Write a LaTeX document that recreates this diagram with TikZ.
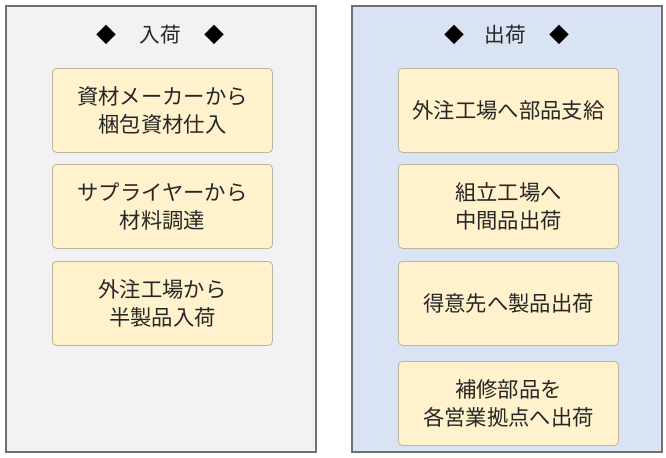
\documentclass[tikz,border=0pt]{standalone}
\usepackage{fontspec}
\setmainfont{Noto Sans CJK JP}
\begin{document}
\begin{tikzpicture}[x=0.75pt,y=-0.75pt,
  item/.style={draw=itemborder, fill=itemfill, rounded corners=3pt, line width=0.6pt,
    minimum width=165pt, minimum height=63pt, inner sep=0pt, align=center,
    font=\fontsize{16pt}{21pt}\selectfont, anchor=north west, text=black!85},
  title/.style={font=\fontsize{15.5pt}{18pt}\selectfont, text=black!85},
  dia/.style={font=\fontsize{15pt}{16pt}\selectfont}]
\definecolor{itemfill}{HTML}{FFF2CC}
\definecolor{itemborder}{HTML}{BDB59E}
\definecolor{leftfill}{HTML}{F2F2F2}
\definecolor{rightfill}{HTML}{DAE3F3}
\definecolor{panelborder}{HTML}{707070}
\useasboundingbox (0,0) rectangle (666,457);
\fill[white] (0,0) rectangle (666,457);
% panels
\draw[fill=leftfill, draw=panelborder, line width=0.9pt] (6,6) rectangle (316,452);
\draw[fill=rightfill, draw=panelborder, line width=0.9pt] (352,6) rectangle (662,452);
% titles
\node[title] (lt) at (160,35) {入荷};
\node[dia] (ld1) at (106,35) {◆};
\node[dia] (ld2) at (214,35) {◆};
\node[title] (rt) at (505,35) {出荷};
\node[dia] (rd1) at (454,35) {◆};
\node[dia] (rd2) at (559,35) {◆};
% left items
\node[item] (l1) at (52,68) {資材メーカーから\\梱包資材仕入};
\node[item] (l2) at (52,164) {サプライヤーから\\材料調達};
\node[item] (l3) at (52,261) {外注工場から\\半製品入荷};
% right items
\node[item] (r1) at (398,68) {外注工場へ部品支給};
\node[item] (r2) at (398,164) {組立工場へ\\中間品出荷};
\node[item] (r3) at (398,261) {得意先へ製品出荷};
\node[item] (r4) at (398,361) {補修部品を\\各営業拠点へ出荷};
\end{tikzpicture}
\end{document}
